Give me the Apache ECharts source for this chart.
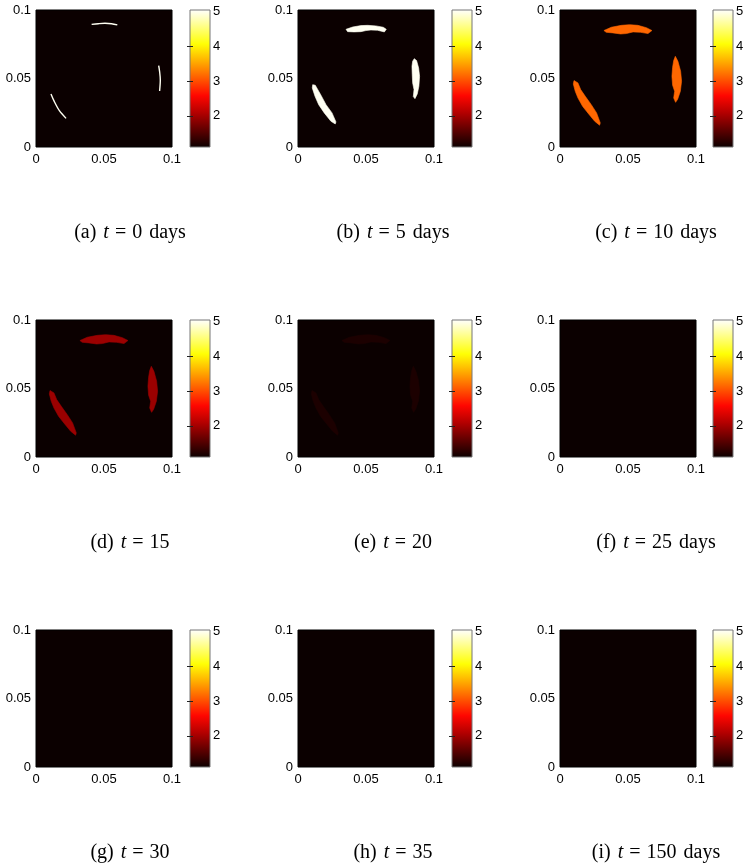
<!DOCTYPE html>
<html><head><meta charset="utf-8">
<script src="https://cdn.jsdelivr.net/npm/echarts@6/dist/echarts.min.js"></script>
<style>html,body{margin:0;padding:0;background:#fff}#c{width:751px;height:867px}</style>
</head><body><div id="c"></div>
<script>
// ---------- data ----------
const PANEL_LETTERS = ['(a)', '(b)', '(c)', '(d)', '(e)', '(f)', '(g)', '(h)', '(i)'];
const PANEL_TIMES = ['0 days', '5 days', '10 days', '15', '20', '25 days', '30', '35', '150 days'];
const PANEL_LEVELS = [5, 5, 3.15, 1.95, 1.2, null, null, null, null];
const PANEL_SHAPE_SET = [0, 1, 2, 2, 2, null, null, null, null];
const BACKGROUND_LEVEL = 1.1;
const COLOR_RANGE = [1.1, 5.05];
const AXIS_RANGE = [0, 0.1];
const AXIS_TICKS = [0, 0.05, 0.1];
const COLORBAR_TICKS = [2, 3, 4, 5];

// panel (a): thin arcs (polylines)
const A_TOP = [[0.0409,0.0895],[0.0458,0.0900],[0.0507,0.0903],[0.0556,0.0900],[0.0598,0.0891]];
const A_RIGHT = [[0.0902,0.0594],[0.0909,0.0550],[0.0914,0.0489],[0.0909,0.0409]];
const A_LEFT = [[0.0110,0.0387],[0.0135,0.0331],[0.0172,0.0265],[0.0221,0.0209]];
// panel (b): crescents
const B_TOP = [[0.0353,0.0859],[0.0402,0.0876],[0.0463,0.0886],[0.0512,0.0888],[0.0573,0.0884],[0.0627,0.0874],[0.0649,0.0859],[0.0635,0.0840],[0.0585,0.0852],[0.0536,0.0854],[0.0500,0.0850],[0.0463,0.0842],[0.0414,0.0840],[0.0365,0.0842]];
const B_RIGHT = [[0.0855,0.0645],[0.0872,0.0631],[0.0887,0.0577],[0.0894,0.0516],[0.0889,0.0443],[0.0877,0.0387],[0.0860,0.0353],[0.0848,0.0368],[0.0853,0.0419],[0.0843,0.0468],[0.0840,0.0528],[0.0838,0.0589],[0.0843,0.0626]];
const B_LEFT = [[0.0108,0.0455],[0.0127,0.0451],[0.0169,0.0378],[0.0206,0.0309],[0.0250,0.0249],[0.0279,0.0183],[0.0274,0.0168],[0.0242,0.0188],[0.0193,0.0249],[0.0152,0.0309],[0.0125,0.0370],[0.0105,0.0431]];
// panels (c)-(e): wider crescents
const C_TOP = [[0.0323,0.0850],[0.0377,0.0874],[0.0451,0.0888],[0.0512,0.0893],[0.0573,0.0888],[0.0635,0.0871],[0.0676,0.0850],[0.0647,0.0828],[0.0593,0.0837],[0.0537,0.0840],[0.0488,0.0828],[0.0446,0.0825],[0.0389,0.0833],[0.0340,0.0837]];
const C_RIGHT = [[0.0848,0.0662],[0.0867,0.0626],[0.0887,0.0553],[0.0894,0.0480],[0.0885,0.0407],[0.0865,0.0348],[0.0850,0.0326],[0.0836,0.0358],[0.0843,0.0407],[0.0828,0.0451],[0.0823,0.0516],[0.0828,0.0582],[0.0836,0.0631]];
const C_LEFT = [[0.0103,0.0485],[0.0132,0.0468],[0.0152,0.0419],[0.0186,0.0370],[0.0230,0.0309],[0.0269,0.0249],[0.0296,0.0176],[0.0291,0.0159],[0.0255,0.0188],[0.0211,0.0241],[0.0166,0.0297],[0.0132,0.0358],[0.0112,0.0407],[0.0098,0.0460]];

const SHAPE_SETS = [
  { thin: true, shapes: [A_TOP, A_RIGHT, A_LEFT] },
  { thin: false, shapes: [B_TOP, B_RIGHT, B_LEFT] },
  { thin: false, shapes: [C_TOP, C_RIGHT, C_LEFT] }
];

// ---------- styling / layout ----------
const HOT = ['#0b0000', '#5e0000', '#b20000', '#ff0600', '#ff5a00', '#ffae00', '#ffff04', '#ffff82', '#ffffff'];
const COL_LEFT = [36, 298, 560];
const BAR_LEFT = [190, 452, 713];
const ROW_TOP = [10, 320, 630];
const PLOT_W = 136, PLOT_H = 137, BAR_W = 20;
const CAP_X = [130, 393, 656];
const CAP_Y = [233, 543, 853];

const SANS = 'Liberation Sans';
const SERIF = 'Liberation Serif';

const grids = [], xAxes = [], yAxes = [], series = [], graphics = [];
const arcSeriesIdx = [];

function renderArcs(params, api) {
  const set = SHAPE_SETS[api.value(1)];
  const color = api.visual('color');
  return {
    type: 'group',
    children: set.shapes.map(pts => {
      const points = pts.map(p => api.coord(p));
      if (set.thin) {
        return { type: 'polyline', shape: { points, smooth: 0.3 }, style: { stroke: color, lineWidth: 1.4, fill: null } };
      }
      return { type: 'polygon', shape: { points }, style: { fill: color, stroke: color, lineWidth: 0.6, lineJoin: 'round' } };
    })
  };
}

const barGradientStops = HOT.map((c, i) => ({ offset: i / (HOT.length - 1), color: c }));
function renderBar(params, api) {
  const p0 = api.coord([0, api.value(0)]);
  const p1 = api.coord([1, api.value(1)]);
  return {
    type: 'rect',
    shape: { x: p0[0], y: p1[1], width: p1[0] - p0[0], height: p0[1] - p1[1] },
    style: { fill: new echarts.graphic.LinearGradient(0, 1, 0, 0, barGradientStops), stroke: '#777', lineWidth: 1 }
  };
}

const labelStyle = { color: '#000', fontSize: 13, fontFamily: SANS };
const fmt = v => String(+(+v).toFixed(3));

for (let i = 0; i < 9; i++) {
  const r = Math.floor(i / 3), c = i % 3;
  grids.push({ left: COL_LEFT[c], top: ROW_TOP[r], width: PLOT_W, height: PLOT_H,
    show: true, backgroundColor: HOT[0], borderColor: '#000', borderWidth: 1, containLabel: false });
  grids.push({ left: BAR_LEFT[c], top: ROW_TOP[r], width: BAR_W, height: PLOT_H, show: false });

  xAxes.push({ type: 'value', gridIndex: 2 * i, min: AXIS_RANGE[0], max: AXIS_RANGE[1],
    splitLine: { show: false }, axisLine: { show: false }, axisTick: { show: false },
    axisLabel: Object.assign({ margin: 6, customValues: AXIS_TICKS, formatter: fmt }, labelStyle) });
  xAxes.push({ type: 'value', gridIndex: 2 * i + 1, min: 0, max: 1, show: false });

  yAxes.push({ type: 'value', gridIndex: 2 * i, min: AXIS_RANGE[0], max: AXIS_RANGE[1],
    splitLine: { show: false }, axisLine: { show: false }, axisTick: { show: false },
    axisLabel: Object.assign({ margin: 5, customValues: AXIS_TICKS, formatter: fmt }, labelStyle) });
  yAxes.push({ type: 'value', gridIndex: 2 * i + 1, position: 'right', min: COLOR_RANGE[0], max: COLOR_RANGE[1], z: 5,
    splitLine: { show: false }, axisLine: { show: false },
    axisTick: { show: true, inside: true, length: 3, customValues: COLORBAR_TICKS.slice(0, 3), lineStyle: { color: '#222', width: 1 } },
    axisLabel: Object.assign({ margin: 3, customValues: COLORBAR_TICKS }, labelStyle) });
  yAxes.push({ type: 'value', gridIndex: 2 * i + 1, position: 'left', min: COLOR_RANGE[0], max: COLOR_RANGE[1], z: 5,
    splitLine: { show: false }, axisLine: { show: false }, axisLabel: { show: false },
    axisTick: { show: true, inside: true, length: 3, customValues: COLORBAR_TICKS.slice(0, 3), lineStyle: { color: '#222', width: 1 } } });

  if (PANEL_LEVELS[i] !== null) {
    arcSeriesIdx.push(series.length);
    series.push({ type: 'custom', xAxisIndex: 2 * i, yAxisIndex: 3 * i, clip: true, silent: true,
      renderItem: renderArcs, data: [[PANEL_LEVELS[i], PANEL_SHAPE_SET[i]]] });
  }
  series.push({ type: 'custom', xAxisIndex: 2 * i + 1, yAxisIndex: 3 * i + 1, silent: true,
    renderItem: renderBar, data: [[COLOR_RANGE[0], COLOR_RANGE[1]]] });

  const parts = PANEL_TIMES[i].split(' ');
  let text = '{lab|' + PANEL_LETTERS[i] + '}{it|t}{eq|=}';
  text += parts.length > 1 ? '{num|' + parts[0] + '}{n|' + parts[1] + '}' : '{n|' + parts[0] + '}';
  const base = { fontSize: 20, fontFamily: SERIF, fill: '#000' };
  graphics.push({ type: 'text', x: CAP_X[c], y: CAP_Y[r], silent: true,
    style: { text, fontSize: 20, fontFamily: SERIF, fill: '#000', align: 'center', verticalAlign: 'middle',
      rich: {
        lab: Object.assign({ padding: [0, 7, 0, 0] }, base),
        it: Object.assign({ fontStyle: 'italic', padding: [0, 6, 0, 0] }, base),
        eq: Object.assign({ padding: [0, 6, 0, 0] }, base),
        num: Object.assign({ padding: [0, 7, 0, 0] }, base),
        n: Object.assign({}, base)
      } } });
}

const chart = echarts.init(document.getElementById('c'), null, { renderer: 'canvas', width: 751, height: 867 });
chart.setOption({
  backgroundColor: '#fff',
  animation: false,
  grid: grids,
  xAxis: xAxes,
  yAxis: yAxes,
  visualMap: [{ type: 'continuous', show: false, min: COLOR_RANGE[0], max: COLOR_RANGE[1], dimension: 0,
    seriesIndex: arcSeriesIdx, inRange: { color: HOT } }],
  series: series,
  graphic: graphics
});
</script></body></html>
